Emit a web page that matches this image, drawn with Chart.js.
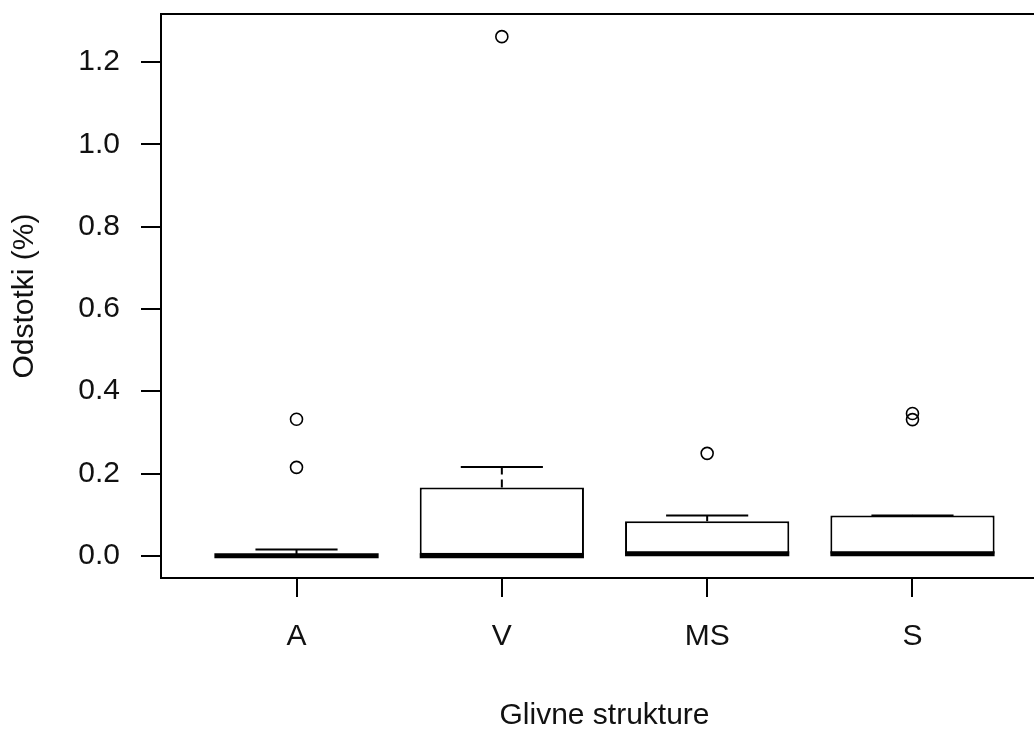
<!DOCTYPE html>
<html>
<head>
<meta charset="utf-8">
<script src="https://cdn.jsdelivr.net/npm/chart.js@4.4.0/dist/chart.umd.min.js"></script>
<style>
html, body { margin: 0; padding: 0; background: #fff; overflow: hidden; }
#wrap { width: 1060px; height: 729px; }
</style>
</head>
<body>
<div id="wrap"><canvas id="myChart" width="1060" height="729"></canvas></div>
<script>
// groups along the x-axis
var categories = ['A', 'V', 'MS', 'S'];
// box statistics for each group
var lowerWhisker = [0, 0, 0.005, 0.005];
var q1 = [0, 0, 0.005, 0.005];
var median = [0, 0, 0.005, 0.005];
var q3 = [0.002, 0.166, 0.084, 0.098];
var upperWhisker = [0.015, 0.216, 0.098, 0.098];
// points outside the whiskers
var outlierGroup = ['A', 'A', 'V', 'MS', 'S', 'S'];
var outlierValue = [0.332, 0.215, 1.262, 0.249, 0.346, 0.331];
// y-axis ticks
var yTicks = [0, 0.2, 0.4, 0.6, 0.8, 1.0, 1.2];

var xTicks = categories.map(function (c, i) { return i + 1; });

var boxes = categories.map(function (c, i) {
  return { x: i + 1, y: [q1[i], q3[i]] };
});
var outliers = outlierGroup.map(function (g, i) {
  return { x: categories.indexOf(g) + 1, y: outlierValue[i] };
});

Chart.defaults.font.family = "'Liberation Sans', Arial, sans-serif";
Chart.defaults.font.size = 30;
Chart.defaults.color = '#111';

// whiskers, caps and medians, drawn on top of the box bars
var boxLines = {
  id: 'boxLines',
  afterDatasetsDraw: function (chart) {
    var y = chart.scales.y;
    var ctx = chart.ctx;
    var bars = chart.getDatasetMeta(0).data;
    function seg(x1, y1, x2, y2) {
      ctx.beginPath(); ctx.moveTo(x1, y1); ctx.lineTo(x2, y2); ctx.stroke();
    }
    ctx.save();
    ctx.strokeStyle = '#000';
    bars.forEach(function (bar, i) {
      var half = bar.width / 2;
      var yHi = y.getPixelForValue(upperWhisker[i]);
      var yLo = y.getPixelForValue(lowerWhisker[i]);
      ctx.lineWidth = 2;
      ctx.setLineDash([8, 5]);
      seg(bar.x, y.getPixelForValue(q3[i]), bar.x, yHi);
      seg(bar.x, y.getPixelForValue(q1[i]), bar.x, yLo);
      ctx.setLineDash([]);
      seg(bar.x - half / 2, yHi, bar.x + half / 2, yHi);
      seg(bar.x - half / 2, yLo, bar.x + half / 2, yLo);
      ctx.lineWidth = 5;
      var ym = y.getPixelForValue(median[i]);
      seg(bar.x - half, ym, bar.x + half, ym);
    });
    ctx.restore();
  }
};

var ctx = document.getElementById('myChart');
var myChart = new Chart(ctx, {
  type: 'bar',
  data: {
    datasets: [
      {
        type: 'bar',
        data: boxes,
        backgroundColor: '#fff',
        borderColor: '#000',
        borderWidth: 2,
        borderSkipped: false,
        categoryPercentage: 1,
        barPercentage: 0.8,
        grouped: false
      },
      {
        type: 'scatter',
        data: outliers,
        pointStyle: 'circle',
        pointRadius: 6,
        pointBorderWidth: 1.6,
        pointBackgroundColor: 'rgba(0,0,0,0)',
        pointBorderColor: '#000'
      }
    ]
  },
  options: {
    responsive: false,
    animation: false,
    layout: { padding: { top: 14, right: 12, left: 0, bottom: 0 } },
    plugins: { legend: { display: false }, tooltip: { enabled: false } },
    scales: {
      x: {
        type: 'linear',
        position: 'bottom',
        offset: false,
        min: 0.34,
        max: 4.66,
        afterBuildTicks: function (s) { s.ticks = xTicks.map(function (v) { return { value: v }; }); },
        afterFit: function (s) { s.height = 151; s.paddingLeft = 0; s.paddingRight = 0; },
        ticks: { padding: 22, callback: function (v) { return categories[v - 1]; } },
        grid: { offset: false, drawOnChartArea: false, drawTicks: true, tickLength: 19, color: '#000', lineWidth: 2 },
        border: { display: true, color: '#000', width: 2 },
        title: { display: true, text: 'Glivne strukture', padding: { top: 0, bottom: -5 } }
      },
      x2: {
        type: 'linear',
        position: 'top',
        offset: false,
        min: 0.34,
        max: 4.66,
        afterFit: function (s) { s.height = 0; s.paddingLeft = 0; s.paddingRight = 0; },
        ticks: { display: false },
        grid: { display: false },
        border: { display: true, color: '#000', width: 2 }
      },
      y: {
        type: 'linear',
        min: -0.054,
        max: 1.317,
        afterBuildTicks: function (s) { s.ticks = yTicks.map(function (v) { return { value: v }; }); },
        afterFit: function (s) { s.width = 161; s.paddingTop = 0; s.paddingBottom = 0; },
        ticks: { padding: 21, callback: function (v) { return v.toFixed(1); } },
        grid: { drawOnChartArea: false, drawTicks: true, tickLength: 20, color: '#000', lineWidth: 2 },
        border: { display: true, color: '#000', width: 2 },
        title: { display: true, text: 'Odstotki (%)', padding: { top: 7, bottom: 0 } }
      }
    }
  },
  plugins: [boxLines]
});
</script>
</body>
</html>
